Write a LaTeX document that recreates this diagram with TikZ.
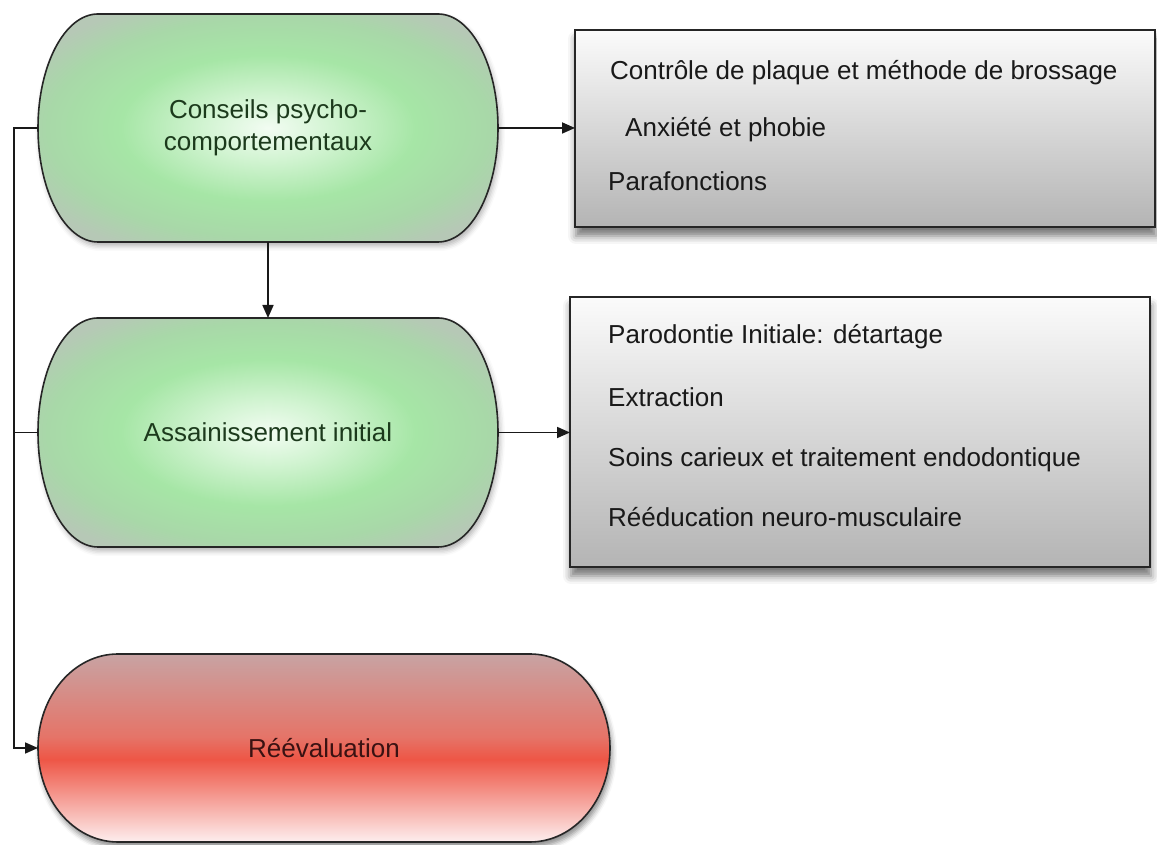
\documentclass[tikz,border=0pt]{standalone}
\usepackage{fontspec}
\setmainfont{Liberation Sans}
\usetikzlibrary{arrows.meta,shadows.blur}
\definecolor{gA}{HTML}{F2FCF2}
\definecolor{gB}{HTML}{D2F4D2}
\definecolor{gC}{HTML}{A6E6A6}
\definecolor{gC2}{HTML}{A8D8A8}
\definecolor{gD}{HTML}{B6C8B6}
\definecolor{rA}{HTML}{FDEEEE}
\definecolor{rB}{HTML}{EE5646}
\definecolor{rC}{HTML}{E57468}
\definecolor{rD}{HTML}{C8A3A3}
\definecolor{grT}{HTML}{FBFBFB}
\definecolor{grB}{HTML}{B4B4B4}
\definecolor{gtext}{HTML}{1C3A1C}
\definecolor{rtext}{HTML}{3A1212}
\pgfdeclareradialshading{greenrad}{\pgfpoint{0bp}{0bp}}{color(0bp)=(gA); color(7bp)=(gB); color(16bp)=(gC); color(24bp)=(gC2); color(30bp)=(gD); color(50bp)=(gD)}
\pgfdeclareverticalshading{redvert}{100bp}{color(0bp)=(rA); color(25bp)=(rA); color(47bp)=(rB); color(53bp)=(rC); color(75bp)=(rD); color(100bp)=(rD)}
\newcommand\stadium[4]{%
    \path[#4] ([xshift=#2]#1.north west) -- ([xshift=-#2]#1.north east)
      arc[start angle=90,end angle=-90,x radius=#2,y radius=#3]
      -- ([xshift=#2]#1.south west)
      arc[start angle=270,end angle=90,x radius=#2,y radius=#3] -- cycle;}
\tikzset{
  frame/.style={inner sep=0pt,outer sep=0pt},
  boxtext/.style={inner sep=0pt,outer sep=0pt,font=\fontsize{26}{32}\selectfont,align=center},
  greenfill/.style={draw=black!85,line width=1.6pt,shade,shading=greenrad,
    blur shadow={shadow xshift=2pt,shadow yshift=-4pt,shadow blur radius=5pt,shadow opacity=30}},
  redfill/.style={draw=black!85,line width=1.6pt,shade,shading=redvert,
    blur shadow={shadow xshift=2pt,shadow yshift=-5pt,shadow blur radius=5pt,shadow opacity=45}},
  graybox/.style={draw=black!85,line width=1.6pt,inner sep=0pt,outer sep=0pt,
    top color=grT,bottom color=grB,
    blur shadow={shadow xshift=1pt,shadow yshift=-9pt,shadow blur radius=8pt,shadow opacity=55}},
  item/.style={anchor=base west,inner sep=0pt,font=\fontsize{26}{30}\selectfont,text=black!90},
  conn/.style={line width=1.7pt,draw=black!90},
  arr/.style={conn,-{Triangle[length=13pt,width=11pt]}}
}
\begin{document}
\begin{tikzpicture}[x=1pt,y=1pt]
\useasboundingbox (0,0) rectangle (1157,845);
% green and red boxes
\node[frame,minimum width=460pt,minimum height=228pt] (b1) at (268,717) {};
\stadium{b1}{60pt}{114pt}{greenfill}
\node[boxtext,text=gtext] (b1t) at (b1.center) {Conseils psycho-\\comportementaux};
\node[frame,minimum width=460pt,minimum height=229pt] (b2) at (268,412.5) {};
\stadium{b2}{60pt}{114.5pt}{greenfill}
\node[boxtext,text=gtext] (b2t) at (b2.center) {Assainissement initial};
\node[frame,minimum width=572pt,minimum height=188pt] (r) at (324,97) {};
\stadium{r}{80pt}{94pt}{redfill}
\node[boxtext,text=rtext] (rt) at (r.center) {Réévaluation};
% gray boxes
\node[graybox,minimum width=580pt,minimum height=197pt] (g1) at (865,716.5) {};
\node[graybox,minimum width=580pt,minimum height=270pt] (g2) at (860,413) {};
\node[item] (t11) at (610,765) {Contrôle de plaque et méthode de brossage};
\node[item] (t12) at (625,708) {Anxiété et phobie};
\node[item] (t13) at (608,654) {Parafonctions};
\node[item] (t21) at (608,501) {Parodontie Initiale: détartage};
\node[item] (t22) at (608,438) {Extraction};
\node[item] (t23) at (608,378) {Soins carieux et traitement endodontique};
\node[item] (t24) at (608,318) {Rééducation neuro-musculaire};
% connectors
\coordinate (L) at (14,717);
\draw[arr] (b1.east) -- (b1.east -| g1.west);
\draw[arr] (b1.south) -- (b2.north);
\draw[arr] (b2.east) -- (b2.east -| g2.west);
\draw[arr] (b1.west) -- (L) |- (r.west);
\draw[conn] (b2.west) -- (b2.west -| L);
\end{tikzpicture}
\end{document}
